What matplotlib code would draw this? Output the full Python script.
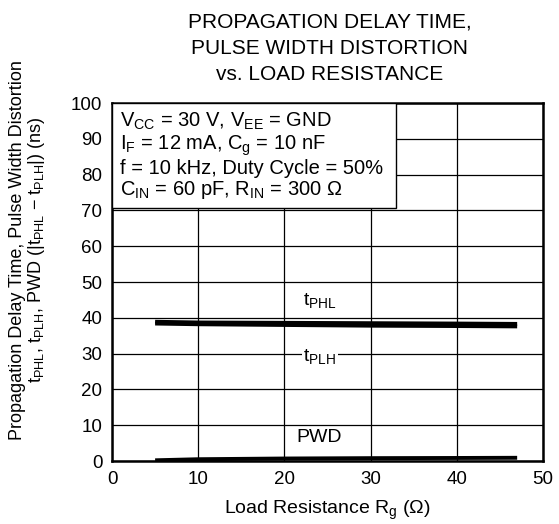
import matplotlib
matplotlib.use("Agg")
import matplotlib.pyplot as plt
from matplotlib.patches import Rectangle

plt.rcParams['font.family'] = ['Liberation Sans', 'DejaVu Sans']
plt.rcParams['mathtext.fontset'] = 'custom'
plt.rcParams['mathtext.rm'] = 'Liberation Sans'
plt.rcParams['mathtext.it'] = 'Liberation Sans'

# Data
rg = [5, 10, 20, 30, 40, 47]
tphl = [38.4, 38.2, 38.0, 37.8, 37.7, 37.6]
tplh = [38.9, 38.7, 38.6, 38.5, 38.4, 38.3]
pwd = [0.2, 0.5, 0.7, 0.8, 0.85, 0.9]

xticks = [0, 10, 20, 30, 40, 50]
yticks = [0, 10, 20, 30, 40, 50, 60, 70, 80, 90, 100]

fig = plt.figure(figsize=(5.59, 5.24), dpi=100)
ax = fig.add_axes([0.2004, 0.1202, 0.771, 0.6832])

ax.plot(rg, tphl, color='black', lw=2.8, solid_capstyle='butt', zorder=3)
ax.plot(rg, tplh, color='black', lw=2.8, solid_capstyle='butt', zorder=3)
ax.plot(rg, pwd, color='black', lw=2.8, solid_capstyle='butt', zorder=3)

ax.set_xlim(0, 50)
ax.set_ylim(0, 100)
ax.set_xticks(xticks)
ax.set_yticks(yticks)
ax.tick_params(length=0, labelsize=13.5, pad=7)
ax.grid(True, color='black', lw=0.9)
ax.set_axisbelow(True)
for s in ax.spines.values():
    s.set_linewidth(1.8)

ax.set_xlabel(r'Load Resistance R$_\mathregular{g}$ ($\Omega$)', fontsize=14)
ax.xaxis.set_label_coords(0.5, -0.105)
ax.set_ylabel('Propagation Delay Time, Pulse Width Distortion\n'
              r't$_\mathregular{PHL}$, t$_\mathregular{PLH}$, PWD (|t$_\mathregular{PHL}$ $-$ t$_\mathregular{PLH}$|) (ns)',
              fontsize=13, linespacing=1.0)
ax.yaxis.set_label_coords(-0.151, 0.59)

fig.text(0.59, 0.977, 'PROPAGATION DELAY TIME,\nPULSE WIDTH DISTORTION\nvs. LOAD RESISTANCE',
         ha='center', va='top', fontsize=15, linespacing=1.5)

# Conditions box
ax.text(0.95, 97.8,
        'V$_\\mathregular{CC}$ = 30 V, V$_\\mathregular{EE}$ = GND\n'
        'I$_\\mathregular{F}$ = 12 mA, C$_\\mathregular{g}$ = 10 nF\n'
        'f = 10 kHz, Duty Cycle = 50%\n'
        'C$_\\mathregular{IN}$ = 60 pF, R$_\\mathregular{IN}$ = 300 $\\Omega$',
        ha='left', va='top', fontsize=14.5, linespacing=1.06, zorder=5)
ax.add_patch(Rectangle((0, 70.6), 33.0, 29.4, facecolor='white', edgecolor='black', lw=1.0, zorder=4))

ax.text(24.1, 44.8, 't$_\\mathregular{PHL}$', ha='center', va='center', fontsize=14, zorder=5)
ax.text(24.1, 29.3, 't$_\\mathregular{PLH}$', ha='center', va='center', fontsize=14, zorder=5,
        bbox=dict(facecolor='white', edgecolor='none', pad=1))
ax.text(24.0, 6.6, 'PWD', ha='center', va='center', fontsize=14, zorder=5,
        bbox=dict(facecolor='white', edgecolor='none', pad=1))

fig.savefig('out.png', dpi=100)
